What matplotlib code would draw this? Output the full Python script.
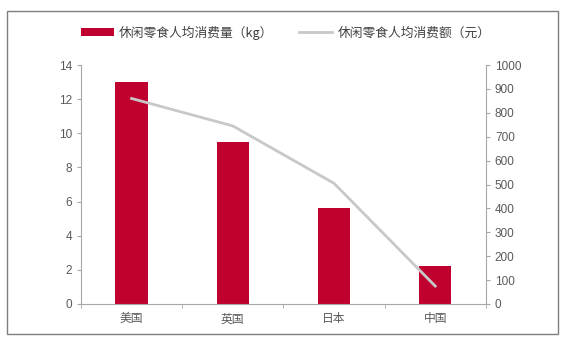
import matplotlib
matplotlib.use('Agg')
from matplotlib import pyplot as plt
from matplotlib.patches import Rectangle
import numpy as np

plt.rcParams['font.family'] = ['Liberation Sans', 'Noto Sans CJK SC', 'DejaVu Sans']

countries = ['美国', '英国', '日本', '中国']
volume_kg = [13.0, 9.5, 5.6, 2.2]
spend_yuan = [860, 745, 505, 75]

bar_label = '休闲零食人均消费量（kg）'
line_label = '休闲零食人均消费额（元）'

bar_color = '#C0002F'
line_color = '#C8C8C8'
tick_color = '#595959'
spine_color = '#A6A6A6'

fig = plt.figure(figsize=(5.77, 3.44), dpi=100)
fig.patches.append(Rectangle((0.012, 0.028), 0.955, 0.94, transform=fig.transFigure,
                             fill=False, edgecolor='#7F7F7F', linewidth=1.0))

ax = fig.add_axes([0.1404, 0.1163, 0.7016, 0.6947])
x = np.arange(len(countries))
ax.bar(x, volume_kg, width=0.32, color=bar_color, label=bar_label, zorder=2)
ax.set_xlim(-0.5, len(countries) - 0.5)
ax.set_ylim(0, 14)
ax.set_yticks(range(0, 15, 2))
ax.set_xticks(x)
ax.set_xticklabels(countries, family=['Noto Sans CJK SC'])
ax.set_xticks(np.arange(-0.5, len(countries), 1.0), minor=True)
ax.tick_params(axis='x', which='major', length=0, pad=6)
ax.tick_params(axis='x', which='minor', length=3, color=spine_color)
ax.tick_params(axis='y', length=3, color=spine_color, labelcolor=tick_color, labelsize=8.5)
ax.tick_params(axis='x', labelcolor=tick_color, labelsize=8.5)

ax2 = ax.twinx()
ax2.plot(x, spend_yuan, color=line_color, linewidth=2, label=line_label, zorder=3)
ax2.set_ylim(0, 1000)
ax2.set_yticks(range(0, 1001, 100))
ax2.tick_params(axis='y', length=3, color=spine_color, labelcolor=tick_color, labelsize=8.5)

for a in (ax, ax2):
    a.spines['top'].set_visible(False)
    for s in ('left', 'right', 'bottom'):
        a.spines[s].set_color(spine_color)
ax.spines['right'].set_visible(False)
ax2.spines['left'].set_visible(False)
ax2.spines['bottom'].set_visible(False)

h1, l1 = ax.get_legend_handles_labels()
h2, l2 = ax2.get_legend_handles_labels()
fig.legend(h1 + h2, l1 + l2, loc='center', bbox_to_anchor=(0.495, 0.905), ncol=2,
           frameon=False, prop={'family': 'Noto Sans CJK SC', 'size': 9.2},
           handlelength=2.6, handleheight=0.6, columnspacing=2.0, handletextpad=0.4,
           labelcolor='#404040')

fig.savefig('out.png', dpi=100)
